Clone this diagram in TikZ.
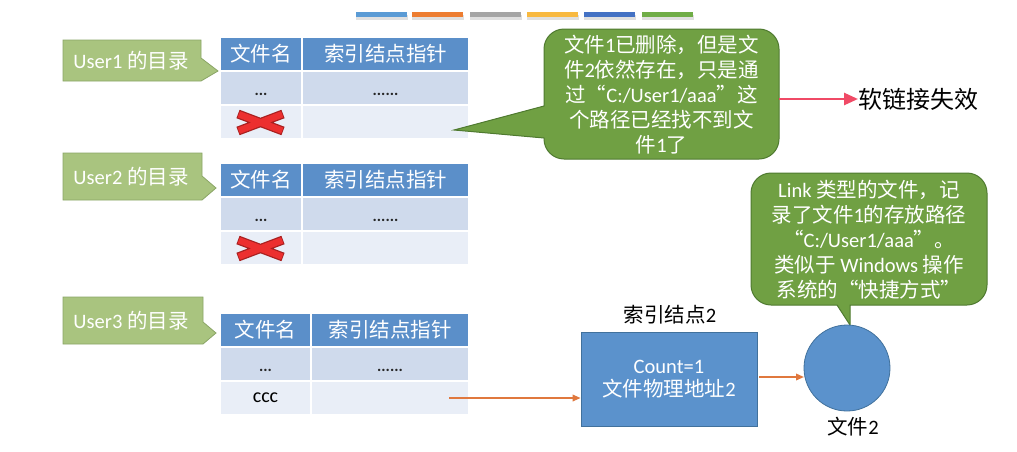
\documentclass[tikz,border=0pt]{standalone}
\usepackage{fontspec}
\setmainfont{Carlito}
\newfontfamily\cjk{Noto Sans CJK SC}
\usetikzlibrary{arrows.meta}
\newcommand{\zhtxt}[1]{{\cjk #1}}
\definecolor{hdrblue}{HTML}{5B8FC9}
\definecolor{rowa}{HTML}{CFDAEC}
\definecolor{rowb}{HTML}{E9EEF7}
\definecolor{lgreen}{HTML}{A9C47F}
\definecolor{lgreenedge}{HTML}{8AA566}
\definecolor{dgreen}{HTML}{70A043}
\definecolor{dgreenedge}{HTML}{4F7A30}
\definecolor{boxblue}{HTML}{5B92CC}
\definecolor{boxedge}{HTML}{41719C}
\definecolor{arrorange}{HTML}{E0783E}
\definecolor{arrred}{HTML}{F04A66}
\definecolor{xred}{HTML}{EC2F2F}
\definecolor{xdark}{HTML}{A82020}
\definecolor{barA}{HTML}{5B9BD5}
\definecolor{barB}{HTML}{ED7D31}
\definecolor{barC}{HTML}{A5A5A5}
\definecolor{barD}{HTML}{F8B940}
\definecolor{barE}{HTML}{4472C4}
\definecolor{barF}{HTML}{70AD47}
\begin{document}
\begin{tikzpicture}[x=1pt,y=-1pt,
  cell/.style={draw=white, line width=1.2pt, inner sep=0pt, minimum height=34pt},
  hdr/.style={cell, fill=hdrblue, text=white, font=\cjk\fontsize{20.5}{24}\selectfont},
  rowA/.style={cell, fill=rowa},
  rowB/.style={cell, fill=rowb},
  dots/.style={font=\bfseries\fontsize{16}{18}\selectfont, text=black!85, inner sep=0pt, anchor=base},
  ulabel/.style={text=white, font=\fontsize{20.5}{24}\selectfont, inner sep=0pt},
  ucall/.style={fill=lgreen, draw=lgreenedge, line width=0.8pt},
  gcall/.style={fill=dgreen, draw=dgreenedge, line width=1pt},
  gtext/.style={text=white, align=center, font=\fontsize{20.5}{25}\selectfont, inner sep=0pt},
  btext/.style={text=black, font=\fontsize{20.5}{24}\selectfont, inner sep=0pt},
  oarr/.style={draw=arrorange, line width=1.8pt, -{Triangle[length=8pt,width=6.5pt]}},
  xstroke/.style={line width=#1, line cap=butt},
  bar/.style={inner sep=0pt, minimum width=51pt, minimum height=5pt},
]
\useasboundingbox (0,0) rectangle (1017,451);
\fill[white] (0,0) rectangle (1017,451);

% colour bars at the top
\foreach \cx/\col [count=\i] in {381.5/barA, 437.5/barB, 495.5/barC, 552.5/barD, 609.5/barE, 667.5/barF}{
  \fill[black!12] (\cx-25.5,15) rectangle (\cx+26.5,19.5);
  \node[bar, fill=\col] (bar\i) at (\cx,14.5) {};
}

% ---------- User1 ----------
\path[ucall] (63,40) -- (201,40) -- (201,58) -- (218,71) -- (201,81) -- (63,81) -- cycle;
\node[ulabel] (u1) at (131,60.5) {User1 \zhtxt{的目录}};
\node[hdr, minimum width=82pt] (t1h1) at (261,54) {文件名};
\node[hdr, minimum width=167pt] (t1h2) at (385.5,54) {索引结点指针};
\node[rowA, minimum width=82pt] (t1a1) at (261,88) {};
\node[rowA, minimum width=167pt] (t1a2) at (385.5,88) {};
\node[rowB, minimum width=82pt] (t1b1) at (261,122) {};
\node[rowB, minimum width=167pt] (t1b2) at (385.5,122) {};
\node[dots] (t1d1) at (261,95) {...};
\node[dots] (t1d2) at (385.5,95) {......};
\draw[xdark, xstroke=9pt] (238,114) -- (283,131) (238,131) -- (283,114);
\draw[xred, xstroke=6.5pt] (238.8,114.3) -- (282.2,130.7) (238.8,130.7) -- (282.2,114.3);

% ---------- User2 ----------
\path[ucall] (63,153) -- (202,153) -- (202,176) -- (216,188) -- (202,200) -- (63,200) -- cycle;
\node[ulabel] (u2) at (131,176.5) {User2 \zhtxt{的目录}};
\node[hdr, minimum width=82pt] (t2h1) at (261,180) {文件名};
\node[hdr, minimum width=167pt] (t2h2) at (385.5,180) {索引结点指针};
\node[rowA, minimum width=82pt] (t2a1) at (261,214) {};
\node[rowA, minimum width=167pt] (t2a2) at (385.5,214) {};
\node[rowB, minimum width=82pt] (t2b1) at (261,248) {};
\node[rowB, minimum width=167pt] (t2b2) at (385.5,248) {};
\node[dots] (t2d1) at (261,221) {...};
\node[dots] (t2d2) at (385.5,221) {......};
\draw[xdark, xstroke=9pt] (238,240) -- (283,257) (238,257) -- (283,240);
\draw[xred, xstroke=6.5pt] (238.8,240.3) -- (282.2,256.7) (238.8,256.7) -- (282.2,240.3);

% ---------- User3 ----------
\path[ucall] (63,297) -- (203,297) -- (203,322) -- (216,333) -- (203,344) -- (63,344) -- cycle;
\node[ulabel] (u3) at (131,320.5) {User3 \zhtxt{的目录}};
\node[hdr, minimum width=91pt] (t3h1) at (265.5,330) {文件名};
\node[hdr, minimum width=158pt] (t3h2) at (390,330) {索引结点指针};
\node[rowA, minimum width=91pt] (t3a1) at (265.5,364) {};
\node[rowA, minimum width=158pt] (t3a2) at (390,364) {};
\node[rowB, minimum width=91pt] (t3b1) at (265.5,398) {};
\node[rowB, minimum width=158pt] (t3b2) at (390,398) {};
\node[dots] (t3d1) at (265.5,371) {...};
\node[dots] (t3d2) at (390,371) {......};
\node[text=black, font=\fontsize{20}{22}\selectfont, inner sep=0pt] (ccc) at (265.5,398) {ccc};

% ---------- callout 1 ----------
\path[gcall] (454,130) -- (544,106) -- (544,49) .. controls (544,38) and (553,29) .. (564,29)
  -- (759,29) .. controls (770,29) and (779,38) .. (779,49)
  -- (779,139) .. controls (779,150) and (770,159) .. (759,159)
  -- (564,159) .. controls (553,159) and (544,150) .. (544,139) -- (544,138) -- cycle;
\node[gtext] (c1txt) at (661.5,95) {\zhtxt{文件}1\zhtxt{已删除，但是文}\\
  \zhtxt{件}2\zhtxt{依然存在，只是通}\\
  \zhtxt{过“}C:/User1/aaa\zhtxt{”这}\\
  \zhtxt{个路径已经找不到文}\\
  \zhtxt{件}1\zhtxt{了}};
\coordinate (c1e) at (779,99);
\node[btext, font=\cjk\fontsize{24}{28}\selectfont, anchor=west] (fail) at (858,99) {软链接失效};
\draw[draw=arrred, line width=2.6pt, -{Triangle[length=14pt,width=12pt]}] (c1e) -- (fail.west);

% ---------- callout 2 ----------
\path[gcall] (850,325) -- (837,305) -- (771,305) .. controls (760,305) and (751,296) .. (751,285)
  -- (751,193) .. controls (751,182) and (760,173) .. (771,173)
  -- (967,173) .. controls (978,173) and (987,182) .. (987,193)
  -- (987,285) .. controls (987,296) and (978,305) .. (967,305)
  -- (850,305) -- cycle;
\node[gtext] (c2txt) at (869,239.5) {Link \zhtxt{类型的文件，记}\\
  \zhtxt{录了文件}1\zhtxt{的存放路径}\\
  \zhtxt{“}C:/User1/aaa\zhtxt{”。}\\
  \zhtxt{类似于} Windows \zhtxt{操作}\\
  \zhtxt{系统的“快捷方式”}};

% ---------- index node 2 and file 2 ----------
\node[btext] (idxlbl) at (670,315) {\zhtxt{索引结点}2};
\node[draw=boxedge, fill=boxblue, line width=0.8pt, minimum width=176pt, minimum height=94pt,
      text=white, align=center, font=\fontsize{20.5}{23}\selectfont] (box) at (669,379)
      {Count=1\\\zhtxt{文件物理地址}2};
\node[circle, draw=boxedge, fill=boxblue, line width=0.8pt, minimum size=86pt, inner sep=0pt] (file2) at (847,368) {};
\node[btext] (file2lbl) at (853,427) {\zhtxt{文件}2};

% ---------- connectors ----------
\coordinate (a3) at (449,398);
\draw[oarr] (a3) -- (a3 -| box.west);
\coordinate (a4) at (759,377);
\draw[oarr] (a4) -- (804,377);
\end{tikzpicture}
\end{document}
